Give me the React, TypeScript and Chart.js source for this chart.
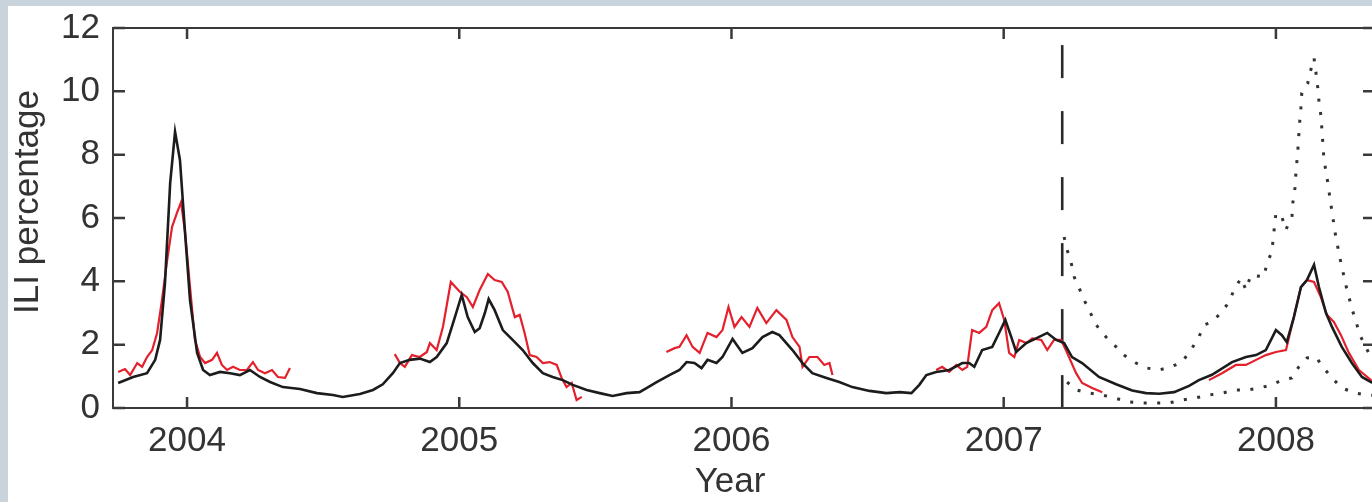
import React, { useEffect, useRef } from "react";
import { Chart, registerables } from "chart.js";

Chart.register(...registerables);

const yearTicks = [2004, 2005, 2006, 2007, 2008];
const valueTicks = [0, 2, 4, 6, 8, 10, 12];

// Model estimate (black)
const blackYears = [
  2003.747, 2003.802, 2003.853, 2003.883, 2003.901, 2003.919, 2003.938, 2003.956, 2003.974, 2003.993,
  2004.011, 2004.037, 2004.059, 2004.084, 2004.121, 2004.158, 2004.194, 2004.231, 2004.268, 2004.305,
  2004.352, 2004.415, 2004.477, 2004.536, 2004.572, 2004.635, 2004.683, 2004.719, 2004.756, 2004.782,
  2004.818, 2004.855, 2004.892, 2004.917, 2004.954, 2004.984, 2005.009, 2005.031, 2005.057, 2005.075,
  2005.094, 2005.108, 2005.13, 2005.16, 2005.196, 2005.233, 2005.27, 2005.307, 2005.343, 2005.38,
  2005.417, 2005.468, 2005.516, 2005.563, 2005.615, 2005.662, 2005.688, 2005.725, 2005.772, 2005.809,
  2005.835, 2005.864, 2005.89, 2005.912, 2005.945, 2005.967, 2006.004, 2006.04, 2006.077, 2006.114,
  2006.15, 2006.176, 2006.224, 2006.261, 2006.297, 2006.349, 2006.396, 2006.444, 2006.507, 2006.569,
  2006.617, 2006.661, 2006.69, 2006.716, 2006.752, 2006.8, 2006.848, 2006.873, 2006.892, 2006.921,
  2006.958, 2006.983, 2007.006, 2007.028, 2007.046, 2007.083, 2007.119, 2007.16, 2007.193, 2007.222,
  2007.251, 2007.288, 2007.35, 2007.413, 2007.472, 2007.523, 2007.571, 2007.626, 2007.681, 2007.717,
  2007.765, 2007.839, 2007.89, 2007.927, 2007.963, 2008.0, 2008.022, 2008.04, 2008.066, 2008.092,
  2008.114, 2008.14, 2008.158, 2008.184, 2008.206, 2008.242, 2008.279, 2008.316, 2008.349, 2008.37,
];
const blackValues = [
  0.79, 0.98, 1.1, 1.52, 2.15, 3.95, 7.1, 8.72, 7.83, 5.5,
  3.4, 1.74, 1.2, 1.04, 1.14, 1.1, 1.04, 1.2, 0.98, 0.82,
  0.66, 0.6, 0.47, 0.41, 0.35, 0.44, 0.57, 0.75, 1.1, 1.42,
  1.52, 1.56, 1.45, 1.61, 2.05, 2.87, 3.57, 2.87, 2.4, 2.52,
  3.0, 3.44, 3.09, 2.46, 2.15, 1.83, 1.42, 1.1, 0.98, 0.88,
  0.73, 0.57, 0.47, 0.38, 0.47, 0.5, 0.63, 0.82, 1.04, 1.2,
  1.45, 1.42, 1.26, 1.52, 1.42, 1.61, 2.18, 1.74, 1.89, 2.24,
  2.4, 2.3, 1.83, 1.42, 1.1, 0.95, 0.82, 0.66, 0.54, 0.47,
  0.5, 0.47, 0.73, 1.04, 1.14, 1.2, 1.42, 1.42, 1.3, 1.83,
  1.93, 2.37, 2.78, 2.24, 1.77, 2.05, 2.2, 2.37, 2.15, 2.05,
  1.61, 1.42, 0.98, 0.75, 0.55, 0.47, 0.45, 0.5, 0.7, 0.88,
  1.05, 1.45, 1.61, 1.67, 1.83, 2.46, 2.3, 2.08, 2.87, 3.82,
  4.04, 4.52, 3.82, 3.0, 2.56, 1.93, 1.42, 0.98, 0.82, 0.75,
];

// CDC reported ILI (red), null = no report
const redYears = [
  2003.747, 2003.772, 2003.791, 2003.817, 2003.835, 2003.853, 2003.872, 2003.89, 2003.908, 2003.927,
  2003.945, 2003.963, 2003.978, 2003.993, 2004.011, 2004.029, 2004.048, 2004.066, 2004.092, 2004.11,
  2004.128, 2004.147, 2004.169, 2004.194, 2004.22, 2004.242, 2004.261, 2004.286, 2004.312, 2004.334,
  2004.36, 2004.378, 2004.55,
  2004.763, 2004.782, 2004.8, 2004.826, 2004.855, 2004.881, 2004.892, 2004.917, 2004.94, 2004.969,
  2005.002, 2005.028, 2005.05, 2005.075, 2005.105, 2005.13, 2005.156, 2005.178, 2005.204, 2005.222,
  2005.24, 2005.259, 2005.284, 2005.307, 2005.332, 2005.358, 2005.376, 2005.394, 2005.413, 2005.431,
  2005.45, 2005.6,
  2005.761, 2005.791, 2005.809, 2005.835, 2005.857, 2005.883, 2005.912, 2005.945, 2005.967, 2005.989,
  2006.011, 2006.037, 2006.066, 2006.095, 2006.128, 2006.165, 2006.202, 2006.224, 2006.25, 2006.261,
  2006.286, 2006.316, 2006.341, 2006.36, 2006.371, 2006.55,
  2006.752, 2006.774, 2006.8, 2006.826, 2006.848, 2006.866, 2006.884, 2006.91, 2006.936, 2006.958,
  2006.983, 2007.002, 2007.02, 2007.039, 2007.057, 2007.083, 2007.105, 2007.138, 2007.16, 2007.185,
  2007.211, 2007.233, 2007.266, 2007.288, 2007.325, 2007.362, 2007.55,
  2007.754, 2007.802, 2007.853, 2007.89, 2007.927, 2007.963, 2008.0, 2008.037, 2008.066, 2008.092,
  2008.114, 2008.14, 2008.165, 2008.187, 2008.213, 2008.239, 2008.268, 2008.305, 2008.349, 2008.37,
];
const redValues = [
  1.14, 1.23, 1.04, 1.42, 1.3, 1.61, 1.83, 2.37, 3.41, 4.67,
  5.72, 6.16, 6.5, 5.52, 3.82, 2.15, 1.61, 1.42, 1.52, 1.74,
  1.36, 1.2, 1.3, 1.2, 1.2, 1.45, 1.2, 1.1, 1.2, 0.98,
  0.95, 1.26, null,
  1.7, 1.42, 1.3, 1.67, 1.61, 1.77, 2.05, 1.83, 2.56, 3.98,
  3.67, 3.5, 3.19, 3.73, 4.23, 4.04, 3.98, 3.67, 2.87, 2.94,
  2.37, 1.67, 1.61, 1.42, 1.45, 1.36, 0.95, 0.66, 0.79, 0.25,
  0.35, null,
  1.77, 1.89, 1.93, 2.3, 1.93, 1.74, 2.37, 2.24, 2.46, 3.19,
  2.56, 2.87, 2.56, 3.16, 2.68, 3.09, 2.78, 2.24, 1.93, 1.3,
  1.61, 1.61, 1.36, 1.42, 1.04, null,
  1.2, 1.3, 1.14, 1.36, 1.2, 1.3, 2.46, 2.37, 2.56, 3.09,
  3.31, 2.78, 1.74, 1.61, 2.15, 2.05, 2.2, 2.15, 1.83, 2.15,
  2.15, 1.74, 1.1, 0.79, 0.63, 0.5, null,
  0.88, 1.1, 1.36, 1.36, 1.52, 1.67, 1.77, 1.83, 2.87, 3.82,
  4.04, 3.98, 3.5, 2.94, 2.72, 2.3, 1.74, 1.2, 0.88, 0.8,
];

// Forecast bounds (dotted)
const upperYears = [
  2007.222, 2007.233, 2007.248, 2007.259, 2007.277, 2007.299, 2007.34, 2007.376, 2007.413, 2007.442,
  2007.486, 2007.527, 2007.571, 2007.615, 2007.655, 2007.692, 2007.717, 2007.736, 2007.765, 2007.798,
  2007.828, 2007.846, 2007.872, 2007.89, 2007.908, 2007.93, 2007.956, 2007.967, 2007.985, 2008.0,
  2008.022, 2008.037, 2008.048, 2008.059, 2008.062, 2008.07, 2008.073, 2008.077, 2008.081, 2008.084,
  2008.088, 2008.092, 2008.095, 2008.117, 2008.128, 2008.14, 2008.147, 2008.154, 2008.158, 2008.165,
  2008.169, 2008.176, 2008.183, 2008.191, 2008.198, 2008.206, 2008.22, 2008.239, 2008.261, 2008.286,
  2008.312, 2008.341, 2008.37,
];
const upperValues = [
  5.4, 5.0, 4.58, 4.14, 3.79, 3.35, 2.62, 2.24, 1.93, 1.67,
  1.42, 1.26, 1.2, 1.3, 1.45, 1.89, 2.24, 2.62, 2.72, 3.0,
  3.35, 3.73, 4.1, 3.73, 4.2, 4.17, 4.14, 4.58, 4.93, 6.16,
  6.03, 5.62, 5.87, 6.03, 6.47, 6.95, 7.36, 7.77, 8.2, 8.6,
  9.1, 9.5, 9.95, 10.26, 10.67, 11.05, 10.6, 10.1, 9.7, 9.25,
  8.8, 7.9, 7.5, 7.1, 6.66, 6.2, 5.4, 4.58, 3.73, 2.94,
  2.24, 1.74, 1.5,
];
const lowerYears = [
  2007.233, 2007.266, 2007.314, 2007.362, 2007.406, 2007.461, 2007.508, 2007.56, 2007.607, 2007.655,
  2007.706, 2007.754, 2007.802, 2007.853, 2007.894, 2007.938, 2007.985, 2008.022, 2008.059, 2008.084,
  2008.114, 2008.147, 2008.176, 2008.206, 2008.242, 2008.294, 2008.33, 2008.37,
];
const lowerValues = [
  0.82, 0.57, 0.47, 0.41, 0.32, 0.19, 0.16, 0.16, 0.16, 0.25,
  0.32, 0.41, 0.47, 0.57, 0.57, 0.63, 0.73, 0.88, 0.95, 1.3,
  1.58, 1.61, 1.26, 0.95, 0.63, 0.47, 0.41, 0.4,
];

// Vertical dashed marker (start of forecast)
const markerYears = [2007.215, 2007.215];
const markerValues = [11.46, 0];

const xMin = 2003.728;
const xMax = 2008.364;

const zip = (xs: number[], ys: (number | null)[]) => xs.map((x, i) => ({ x, y: ys[i] }));

const FONT = '"Liberation Sans", Arial, Helvetica, sans-serif';
const TEXT = "#333333";
const AXIS = "#3a3a3a";
const FONT_SIZE = 35;

const framePlugin = {
  id: "frameTicks",
  afterDatasetsDraw(chart: any) {
    const { ctx, chartArea: a, scales } = chart;
    const xs = scales.x;
    const ys = scales.y;
    ctx.save();
    ctx.strokeStyle = AXIS;
    ctx.lineWidth = 2;
    ctx.beginPath();
    ctx.rect(a.left, a.top, a.right - a.left, a.bottom - a.top);
    ctx.stroke();
    ctx.lineWidth = 2.5;
    ctx.beginPath();
    for (const v of valueTicks) {
      const py = ys.getPixelForValue(v);
      ctx.moveTo(a.left, py);
      ctx.lineTo(a.left + 12, py);
      ctx.moveTo(a.right, py);
      ctx.lineTo(a.right - 12, py);
    }
    for (const v of yearTicks) {
      const px = xs.getPixelForValue(v);
      ctx.moveTo(px, a.bottom);
      ctx.lineTo(px, a.bottom - 11);
      ctx.moveTo(px, a.top);
      ctx.lineTo(px, a.top + 11);
    }
    ctx.stroke();
    ctx.fillStyle = TEXT;
    ctx.font = `${FONT_SIZE}px ${FONT}`;
    ctx.textAlign = "center";
    ctx.textBaseline = "middle";
    ctx.fillText("Year", 730, 482);
    ctx.translate(28, 202);
    ctx.rotate(-Math.PI / 2);
    ctx.fillText("ILI percentage", 0, 0);
    ctx.restore();
  },
};

export default function App() {
  const ref = useRef<HTMLCanvasElement | null>(null);

  useEffect(() => {
    if (!ref.current) return;
    const chart = new Chart(ref.current, {
      type: "line",
      data: {
        datasets: [
          {
            data: zip(blackYears, blackValues),
            borderColor: "#1c1c1c",
            borderWidth: 2.6,
            pointRadius: 0,
            tension: 0,
          },
          {
            data: zip(redYears, redValues),
            borderColor: "#e3202c",
            borderWidth: 2.2,
            pointRadius: 0,
            spanGaps: false,
            tension: 0,
          },
          {
            data: zip(upperYears, upperValues),
            borderColor: "#333333",
            borderWidth: 3,
            borderDash: [3, 10.5],
            pointRadius: 0,
            tension: 0,
          },
          {
            data: zip(lowerYears, lowerValues),
            borderColor: "#333333",
            borderWidth: 3,
            borderDash: [3, 10.5],
            pointRadius: 0,
            tension: 0,
          },
          {
            data: zip(markerYears, markerValues),
            borderColor: "#2a2a2a",
            borderWidth: 2.6,
            borderDash: [33, 33],
            pointRadius: 0,
          },
        ],
      },
      options: {
        responsive: false,
        animation: false,
        events: [],
        devicePixelRatio: 1,
        layout: { padding: { top: 28, right: 5, bottom: 0, left: 0 } },
        plugins: { legend: { display: false }, tooltip: { enabled: false } },
        scales: {
          x: {
            type: "linear",
            min: xMin,
            max: xMax,
            grid: { display: false, drawTicks: false },
            border: { display: false },
            afterBuildTicks: (s: any) => {
              s.ticks = yearTicks.map((v) => ({ value: v }));
            },
            afterFit: (s: any) => {
              s.height = 94;
              s.paddingLeft = 0;
              s.paddingRight = 0;
            },
            ticks: {
              autoSkip: false,
              maxRotation: 0,
              padding: 12,
              color: TEXT,
              font: { family: FONT, size: FONT_SIZE },
              callback: (v: any) => String(v),
            },
          },
          y: {
            type: "linear",
            min: 0,
            max: 12,
            grid: { display: false, drawTicks: false },
            border: { display: false },
            afterBuildTicks: (s: any) => {
              s.ticks = valueTicks.map((v) => ({ value: v }));
            },
            afterFit: (s: any) => {
              s.width = 113;
              s.paddingTop = 0;
              s.paddingBottom = 0;
            },
            ticks: {
              padding: 13,
              color: TEXT,
              font: { family: FONT, size: FONT_SIZE },
              callback: (v: any) => String(v),
            },
          },
        },
      },
      plugins: [framePlugin],
    });
    return () => chart.destroy();
  }, []);

  return (
    <div style={{ position: "fixed", inset: 0, background: "#c8d3db", overflow: "hidden" }}>
      <div style={{ position: "absolute", left: 8, top: 6, right: 0, bottom: 0, background: "#ffffff" }} />
      <div style={{ position: "absolute", left: 0, top: 0, width: 1380, height: 502 }}>
        <canvas ref={ref} width={1380} height={502} style={{ display: "block" }} />
      </div>
    </div>
  );
}
